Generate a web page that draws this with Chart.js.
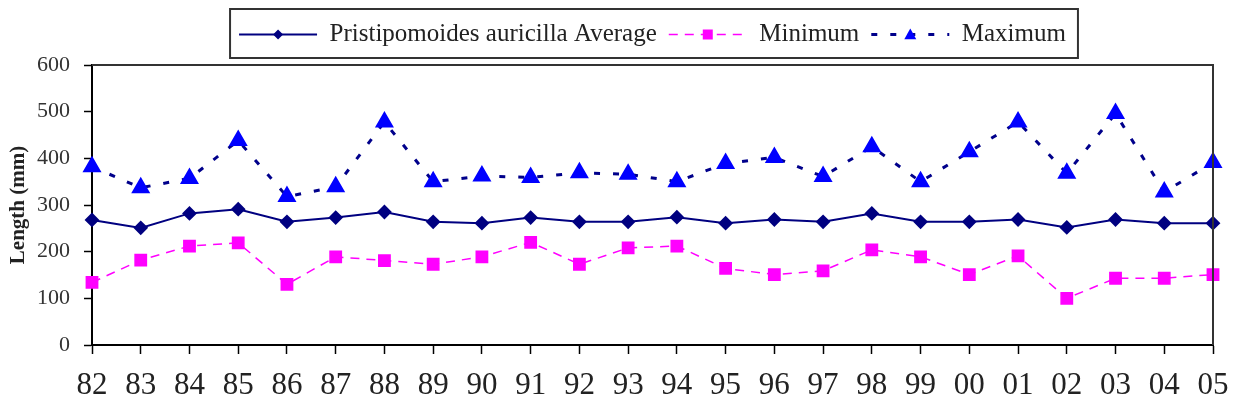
<!DOCTYPE html>
<html>
<head>
<meta charset="utf-8">
<script src="https://cdn.jsdelivr.net/npm/chart.js@4/dist/chart.umd.min.js"></script>
<style>
  html, body { margin: 0; padding: 0; background: #fff; }
</style>
</head>
<body>
<canvas id="lengthChart" width="1233" height="411"></canvas>
<script>
var years = ["82","83","84","85","86","87","88","89","90","91","92","93","94","95","96","97","98","99","00","01","02","03","04","05"];
var averageLen = [268,251,282,291,264,273,285,264,261,273,264,264,274,261,269,264,282,264,264,269,252,269,261,261];
var minimumLen = [134,182,212,219,130,189,181,173,189,220,173,208,212,164,151,159,204,189,151,191,100,143,143,151];
var maximumLen = [382,337,357,438,318,339,478,350,362,359,369,366,350,389,402,361,425,350,414,478,368,496,328,391];
var yTicks = [0,100,200,300,400,500,600];

var serif = "'Liberation Serif', 'Times New Roman', serif";

// marker shapes for the legend samples
function drawMarker(ctx, style, x, y, r, color) {
  ctx.save();
  ctx.fillStyle = color;
  ctx.setLineDash([]);
  ctx.beginPath();
  if (style === "rectRot") {
    ctx.moveTo(x, y - r); ctx.lineTo(x + r, y); ctx.lineTo(x, y + r); ctx.lineTo(x - r, y);
  } else if (style === "rect") {
    ctx.rect(x - r, y - r, 2 * r, 2 * r);
  } else {
    ctx.moveTo(x, y - r); ctx.lineTo(x + r, y + r * 0.8); ctx.lineTo(x - r, y + r * 0.8);
  }
  ctx.closePath();
  ctx.fill();
  ctx.restore();
}

// legend line samples, legend frame and the plot area's top/right border
var framePlugin = {
  id: "frame",
  afterDraw: function(chart) {
    var ctx = chart.ctx;
    var area = chart.chartArea;
    ctx.save();
    ctx.strokeStyle = "#333";
    ctx.lineWidth = 2;
    ctx.beginPath();
    ctx.moveTo(area.left, area.top);
    ctx.lineTo(area.right, area.top);
    ctx.lineTo(area.right, area.bottom);
    ctx.stroke();

    var legend = chart.legend;
    var boxes = legend.legendHitBoxes;
    var boxW = legend.options.labels.boxWidth;
    var markerSize = [5, 5, 6];
    boxes.forEach(function(hb, i) {
      var ds = chart.data.datasets[i];
      var cy = hb.top + hb.height / 2;
      ctx.save();
      ctx.strokeStyle = ds.borderColor;
      ctx.lineWidth = ds.borderWidth;
      ctx.setLineDash(ds.borderDash || []);
      ctx.beginPath();
      ctx.moveTo(hb.left, cy);
      ctx.lineTo(hb.left + boxW, cy);
      ctx.stroke();
      ctx.restore();
      drawMarker(ctx, ds.pointStyle, hb.left + boxW / 2, cy, markerSize[i], ds.pointBackgroundColor);
    });

    var first = boxes[0], last = boxes[boxes.length - 1];
    ctx.strokeStyle = "#333";
    ctx.lineWidth = 2;
    ctx.setLineDash([]);
    ctx.strokeRect(first.left - 9, first.top - 13, last.left + last.width - first.left + 21, first.height + 24);
    ctx.restore();
  }
};

new Chart("lengthChart", {
  type: "line",
  data: {
    labels: years,
    datasets: [{
      label: "Pristipomoides auricilla Average",
      data: averageLen,
      borderColor: "#000080",
      borderWidth: 2,
      pointStyle: "rectRot",
      pointRadius: 6,
      pointBackgroundColor: "#000080",
      pointBorderColor: "#000080",
      tension: 0
    }, {
      label: "Minimum",
      data: minimumLen,
      borderColor: "#ff00ff",
      borderWidth: 1.5,
      borderDash: [9, 7],
      pointStyle: "rect",
      pointRadius: 8,
      pointBackgroundColor: "#ff00ff",
      pointBorderColor: "#ff00ff",
      tension: 0
    }, {
      label: "Maximum",
      data: maximumLen,
      borderColor: "#00008b",
      borderWidth: 3,
      borderDash: [6, 13],
      pointStyle: "triangle",
      pointRadius: 8,
      pointBackgroundColor: "#0000ff",
      pointBorderColor: "#0000ff",
      tension: 0
    }]
  },
  options: {
    responsive: false,
    animation: false,
    layout: { padding: { top: 10, left: 0, right: 20, bottom: 0 } },
    plugins: {
      tooltip: { enabled: false },
      // empty title used only as a gap under the legend
      title: {
        display: true,
        text: "",
        fullSize: false,
        weight: 500,
        padding: 0,
        font: { size: 8, lineHeight: 1 }
      },
      legend: {
        position: "top",
        fullSize: false,
        labels: {
          font: { family: serif, size: 25 },
          color: "#222",
          boxWidth: 78,
          boxHeight: 0,
          padding: 12,
          generateLabels: function(chart) {
            var items = Chart.defaults.plugins.legend.labels.generateLabels(chart);
            items.forEach(function(it) {
              it.fillStyle = "rgba(0,0,0,0)";
              it.strokeStyle = "rgba(0,0,0,0)";
              it.lineWidth = 0;
            });
            return items;
          }
        }
      }
    },
    scales: {
      x: {
        offset: false,
        grid: { drawOnChartArea: false, tickLength: 9, tickColor: "#000", tickWidth: 1.5 },
        border: { color: "#000", width: 2 },
        ticks: { font: { family: serif, size: 31 }, color: "#222", padding: 13, maxRotation: 0, autoSkip: false },
        afterFit: function(scale) {
          scale.height = 66;
          scale.paddingLeft = 0;
          scale.paddingRight = 0;
        }
      },
      y: {
        min: 0,
        max: 600,
        afterBuildTicks: function(scale) {
          scale.ticks = yTicks.map(function(v) { return { value: v }; });
        },
        grid: { drawOnChartArea: false, tickLength: 8, tickColor: "#000", tickWidth: 1.5 },
        border: { color: "#000", width: 2 },
        ticks: { font: { family: serif, size: 22 }, color: "#333", padding: 14 },
        title: {
          display: true,
          text: "Length (mm)",
          font: { family: serif, size: 21, weight: "bold" },
          color: "#222",
          padding: { top: 6, bottom: 0 }
        },
        afterFit: function(scale) { scale.width = 92; }
      }
    }
  },
  plugins: [framePlugin]
});
</script>
</body>
</html>
